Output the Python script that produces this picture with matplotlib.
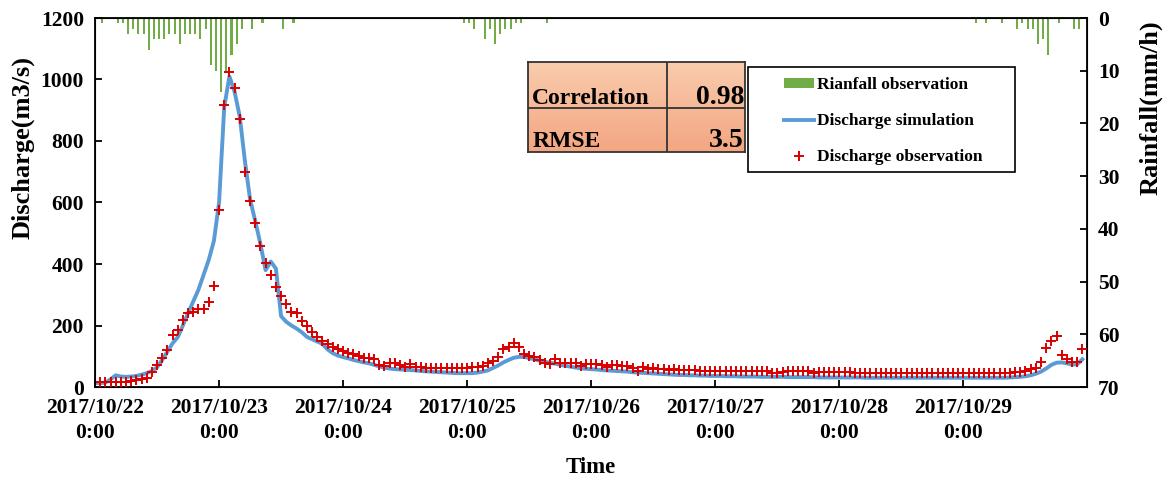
import matplotlib
matplotlib.use("Agg")
import matplotlib.pyplot as plt
import numpy as np
from matplotlib.lines import Line2D
from matplotlib.patches import Patch, Rectangle
from matplotlib.colors import LinearSegmentedColormap

plt.rcParams["font.family"] = ["Liberation Serif", "DejaVu Serif"]
plt.rcParams["font.weight"] = "bold"
plt.rcParams["axes.labelweight"] = "bold"

# hourly values, first value = 2017/10/22 0:00 (one row per day)
obs = [
    15, 15, 15, 15, 15, 15, 15, 18, 23, 26, 30, 50, 71, 93, 120, 169, 185, 218, 240, 245, 253, 253, 275, 328,
    576, 917, 1025, 971, 871, 698, 605, 534, 458, 404, 364, 324, 296, 270, 245, 242, 216, 198, 180, 164, 150, 140, 131, 122,
    118, 112, 107, 101, 95, 93, 90, 72, 69, 77, 77, 70, 66, 75, 64, 64, 63, 63, 62, 62, 62, 62, 62, 63,
    63, 64, 66, 68, 77, 86, 97, 122, 129, 144, 129, 107, 101, 97, 88, 79, 75, 90, 79, 79, 79, 79, 68, 75,
    75, 75, 71, 66, 73, 71, 68, 68, 61, 53, 64, 57, 61, 57, 57, 55, 57, 55, 55, 55, 55, 53, 53, 53,
    53, 53, 53, 53, 52, 52, 52, 52, 52, 52, 52, 47, 46, 50, 52, 52, 52, 51, 51, 47, 49, 48, 48, 48,
    48, 48, 48, 47, 47, 47, 47, 47, 47, 47, 46, 46, 46, 46, 46, 46, 46, 46, 46, 46, 46, 46, 46, 46,
    46, 46, 46, 46, 46, 46, 46, 46, 46, 46, 48, 50, 53, 57, 61, 82, 126, 151, 167, 104, 90, 82, 82, 123,
]
sim = [
    13, 13, 14, 25, 38, 34, 33, 34, 36, 40, 45, 52, 64, 88, 115, 142, 162, 200, 240, 278, 316, 365, 413, 475,
    600, 910, 1010, 960, 880, 735, 610, 540, 465, 380, 408, 385, 230, 212, 200, 190, 178, 163, 155, 148, 140, 122, 110, 102,
    97, 93, 88, 84, 80, 77, 72, 67, 63, 60, 58, 57, 56, 55, 54, 52, 51, 50, 49, 48, 47, 46, 45, 45,
    45, 45, 47, 50, 54, 62, 70, 80, 88, 95, 98, 98, 94, 90, 86, 82, 79, 76, 72, 69, 66, 63, 61, 59,
    58, 57, 55, 54, 53, 52, 51, 50, 48, 47, 46, 45, 44, 43, 42, 41, 40, 39, 39, 38, 38, 37, 37, 36,
    36, 36, 35, 35, 35, 34, 34, 34, 34, 33, 33, 33, 33, 33, 32, 32, 32, 32, 32, 32, 31, 31, 31, 31,
    31, 31, 31, 31, 31, 30, 30, 30, 30, 30, 30, 30, 30, 30, 30, 30, 30, 30, 30, 30, 30, 30, 30, 30,
    30, 30, 30, 30, 30, 30, 30, 30, 30, 31, 32, 33, 35, 38, 43, 50, 60, 72, 79, 80, 77, 73, 74, 90,
]
rain_hour = [1, 4, 5, 6, 7, 8, 9, 10, 11, 12, 13, 14, 15, 16, 17, 18, 19, 20, 21, 22, 23, 24, 25, 26, 27, 28, 30, 32, 36, 38,
             71, 72, 73, 75, 76, 77, 78, 79, 80, 81, 82, 87,
             170, 172, 175, 178, 179, 180, 181, 182, 183, 184, 186, 189, 190]
rain_mm = [1, 1, 1, 3, 2, 3, 3, 6, 4, 4, 4, 3, 3, 5, 3, 3, 3, 4, 2, 9, 10, 14, 10, 7, 5, 2, 2, 1, 2, 1,
           1, 1, 2, 4, 2, 5, 3, 2, 2, 1, 1, 1,
           1, 1, 1, 2, 1, 2, 2, 5, 4, 7, 1, 2, 2]
day_labels = ["2017/10/22\n0:00", "2017/10/23\n0:00", "2017/10/24\n0:00", "2017/10/25\n0:00",
              "2017/10/26\n0:00", "2017/10/27\n0:00", "2017/10/28\n0:00", "2017/10/29\n0:00"]
stat_names = ["Correlation", "RMSE"]
stat_values = ["0.98", "3.5"]

hours = np.arange(len(obs))

fig = plt.figure(figsize=(11.7, 4.86), dpi=100)
ax = fig.add_axes([95 / 1170, 1 - 387 / 486, 992 / 1170, 369 / 486])
ax.plot(hours, sim, color="#5B9BD5", lw=2.8, solid_joinstyle="round", zorder=2)
ax.plot(hours, obs, ls="none", marker="+", ms=7, mew=1.4, color="#D90000", zorder=3)
ax.set_xlim(0, 191.9)
ax.set_ylim(0, 1200)
ax.set_yticks(range(0, 1201, 200))
ax.set_xticks(np.arange(0, 24 * len(day_labels), 24))
ax.set_xticklabels(day_labels)
for lbl in ax.get_xticklabels():
    lbl.set_linespacing(1.3)
ax.tick_params(direction="in", length=5, width=1.3, labelsize=15.5, pad=8)
for s in ax.spines.values():
    s.set_linewidth(1.3)
ax.set_ylabel("Discharge(m3/s)", fontsize=19)
ax.yaxis.set_label_coords(-0.061, 0.65)
ax.set_xlabel("Time", fontsize=16.5)
ax.xaxis.set_label_coords(0.5, -0.19)

ax2 = ax.twinx()
ax2.bar(np.array(rain_hour) + 0.4, rain_mm, width=0.4, color="#70AD47", zorder=1)
ax2.set_ylim(70, 0)
ax2.set_yticks(range(0, 71, 10))
ax2.tick_params(direction="in", length=5, width=1.3, labelsize=15.5, pad=8)
ax2.set_ylabel("Rainfall(mm/h)", fontsize=19)
ax2.yaxis.set_label_coords(1.053, 0.756)

# legend box
ax2.add_patch(Rectangle((0.658, 0.583), 0.269, 0.284, transform=ax2.transAxes, facecolor="white",
                        edgecolor="black", lw=1.2, zorder=5, clip_on=False))
handles = [Patch(facecolor="#70AD47", edgecolor="none"),
           Line2D([], [], color="#5B9BD5", lw=2.8),
           Line2D([], [], ls="none", marker="+", ms=7, mew=1.4, color="#D90000")]
names = ["Rianfall observation", "Discharge simulation", "Discharge observation"]
leg = ax2.legend(handles, names, loc="upper left", bbox_to_anchor=(0.695, 0.84), frameon=False,
                 fontsize=12.5, borderpad=0, borderaxespad=0, handlelength=1.7, handleheight=0.45,
                 handletextpad=0.2, labelspacing=1.15)
leg.set_zorder(6)

# statistics table
tax = fig.add_axes([528 / 1170, 1 - 152 / 486, 217 / 1170, 90 / 486])
cmap = LinearSegmentedColormap.from_list("peach", ["#F9CCAE", "#F3A681"])
tax.imshow(np.linspace(0, 1, 100).reshape(-1, 1), aspect="auto", cmap=cmap, extent=[0, 1, 0, 1], origin="upper")
tax.set_xlim(0, 1)
tax.set_ylim(0, 1)
tax.set_xticks([])
tax.set_yticks([])
for s in tax.spines.values():
    s.set_linewidth(1.3)
    s.set_color("#333333")
tax.axvline(0.64, color="#333333", lw=1.3)
tax.axhline(0.49, color="#333333", lw=1.3)
for i, (name, val) in enumerate(zip(stat_names, stat_values)):
    yb = 0.53 - i * 0.47
    tax.text(0.02, yb, name, fontsize=17, va="baseline", ha="left")
    tax.text(0.995, yb, val, fontsize=20, va="baseline", ha="right")

fig.savefig("out.png", dpi=100)
